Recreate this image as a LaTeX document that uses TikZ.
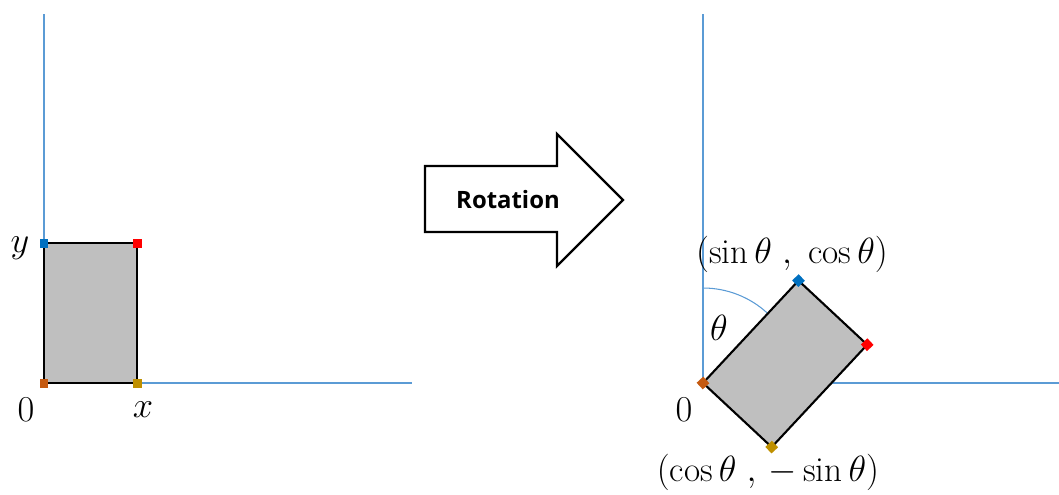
\documentclass[tikz,border=0pt]{standalone}
\usepackage{fontspec}
\newfontfamily\labelfont{Open Sans}
\usetikzlibrary{calc}

\definecolor{axisblue}{RGB}{91,155,213}
\definecolor{mblue}{RGB}{0,112,192}
\definecolor{mred}{RGB}{255,0,0}
\definecolor{morange}{RGB}{197,90,17}
\definecolor{molive}{RGB}{191,144,0}

\tikzset{
  axis/.style={axisblue, line width=0.6pt},
  box/.style={fill=black!25, draw=black, line width=1.2pt, line join=miter},
  marker/.style={rectangle, fill=#1, inner sep=0pt, minimum size=0.18cm},
  lbl/.style={inner sep=1pt, font=\fontsize{20}{24}\selectfont},
}

\begin{document}
\begin{tikzpicture}[x=0.02cm, y=-0.02cm]
			\useasboundingbox (0,0) rectangle (1059,494);

			% left: before rotation
			\coordinate (o1) at (44,383);
			\coordinate (y1) at (44,243);
			\coordinate (r1) at (137,243);
			\coordinate (x1) at (137,383);
			\coordinate (top1) at (44,14);
			\coordinate (end1) at (412,383);

			\draw[axis] (top1) -- (o1) -- (end1);
			\draw[box] (o1) -- (y1) -- (r1) -- (x1) -- cycle;

			\node[marker=mblue] (my1) at (y1) {};
			\node[marker=mred] (mr1) at (r1) {};
			\node[marker=morange] (mo1) at (o1) {};
			\node[marker=molive] (mx1) at (x1) {};

			\node[lbl] (ly) at (20,248) {$y$};
			\node[lbl] (l01) at (26,410) {$0$};
			\node[lbl] (lx) at (143,410) {$x$};

			% arrow
			\draw[line width=1.3pt, line join=miter] (425,166) -- (557,166) -- (557,134) -- (623,200)
				-- (557,266) -- (557,232) -- (425,232) -- cycle;
			\node[inner sep=0pt, font=\labelfont\fontsize{13.6}{16}\selectfont\bfseries] (rot) at (508,200) {Rotation};

			% right: after rotation
			\coordinate (o2) at (703,383);
			\coordinate (y2) at (798.5,280.6);
			\coordinate (r2) at (867.2,344.7);
			\coordinate (x2) at (771.7,447.1);
			\coordinate (top2) at (703,14);
			\coordinate (end2) at (1059,383);

			\draw[axis] (top2) -- (o2) -- (end2);
			\draw[axis] (703,288) arc[start angle=-90, end angle=-47, radius=95];
			\draw[box] (o2) -- (y2) -- (r2) -- (x2) -- cycle;

			\node[marker=mblue, rotate=43] (my2) at (y2) {};
			\node[marker=mred, rotate=43] (mr2) at (r2) {};
			\node[marker=morange, rotate=43] (mo2) at (o2) {};
			\node[marker=molive, rotate=43] (mx2) at (x2) {};

			\node[lbl] (lth) at (719,328) {$\theta$};
			\node[lbl] (l02) at (684,410) {$0$};
			\node[lbl] (lsc) at (792,254) {$(\sin\theta\;,\;\cos\theta)$};
			\node[lbl] (lcs) at (768,472) {$(\cos\theta\;,\,{-\sin\theta})$};
		\end{tikzpicture}
\end{document}
